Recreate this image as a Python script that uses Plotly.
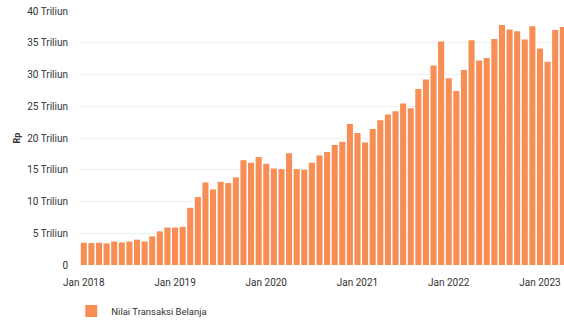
import plotly.graph_objects as go

month_names = ["Jan", "Feb", "Mar", "Apr", "May", "Jun", "Jul", "Aug", "Sep", "Oct", "Nov", "Dec"]
years = [2018, 2019, 2020, 2021, 2022, 2023]

# Nilai Transaksi Belanja (Rp Triliun), monthly
values_2018 = [3.5, 3.45, 3.5, 3.4, 3.7, 3.55, 3.7, 4.0, 3.7, 4.5, 5.3, 5.9]
values_2019 = [5.9, 6.0, 9.0, 10.7, 13.0, 11.9, 13.1, 12.9, 13.8, 16.5, 16.1, 17.0]
values_2020 = [15.95, 15.2, 15.1, 17.6, 15.1, 15.0, 16.1, 17.25, 17.8, 18.9, 19.4, 22.2]
values_2021 = [20.8, 19.3, 21.4, 22.8, 23.7, 24.2, 25.45, 24.7, 27.7, 29.2, 31.4, 35.2]
values_2022 = [29.4, 27.4, 30.7, 35.4, 32.2, 32.6, 35.6, 37.8, 37.1, 36.8, 35.5, 37.6]
values_2023 = [34.1, 32.0, 37.0, 37.5]

values = values_2018 + values_2019 + values_2020 + values_2021 + values_2022 + values_2023
categories = [f"{m} {y}" for y in years for m in month_names][:len(values)]

x_tick_labels = ["Jan 2018", "Jan 2019", "Jan 2020", "Jan 2021", "Jan 2022", "Jan 2023"]
y_tick_values = [0, 5, 10, 15, 20, 25, 30, 35, 40]
y_tick_labels = ["0", "5 Triliun", "10 Triliun", "15 Triliun", "20 Triliun",
                 "25 Triliun", "30 Triliun", "35 Triliun", "40 Triliun"]
series_name = "Nilai Transaksi Belanja"

fig = go.Figure()
fig.add_trace(go.Bar(
    x=categories,
    y=values,
    name=series_name,
    marker=dict(color="#F68E56", line=dict(width=0)),
    showlegend=True,
))

fig.update_layout(
    width=564,
    height=320,
    margin=dict(l=80, r=0, t=11, b=55, autoexpand=False),
    paper_bgcolor="white",
    plot_bgcolor="white",
    bargap=0.2,
    font=dict(family="Roboto, Arial, sans-serif", size=10, color="#333333"),
    showlegend=True,
    legend=dict(
        orientation="h",
        x=-0.018, y=-0.181, xanchor="left", yanchor="middle",
        font=dict(size=9.5, color="#333333"),
        bgcolor="rgba(0,0,0,0)",
    ),
    xaxis=dict(
        type="category",
        automargin=False,
        range=[-0.5, 63.16],
        tickmode="array",
        tickvals=x_tick_labels,
        ticktext=x_tick_labels,
        showgrid=False,
        zeroline=False,
        showline=False,
        ticks="outside", ticklen=8, tickcolor="rgba(0,0,0,0)",
        tickfont=dict(size=10, color="#333333"),
    ),
    yaxis=dict(
        automargin=False,
        range=[0, 40],
        tickmode="array",
        tickvals=y_tick_values,
        ticktext=y_tick_labels,
        showgrid=True,
        gridcolor="#EFEFEF",
        gridwidth=1,
        zeroline=False,
        showline=False,
        ticks="outside", ticklen=9, tickcolor="rgba(0,0,0,0)",
        tickfont=dict(size=10, color="#333333"),
        title=dict(text="<b>Rp</b>", font=dict(size=9, color="#333333"), standoff=4),
    ),
)

fig.write_html("out.html", config={"displayModeBar": False},
               post_script="document.body.style.margin='0';")
